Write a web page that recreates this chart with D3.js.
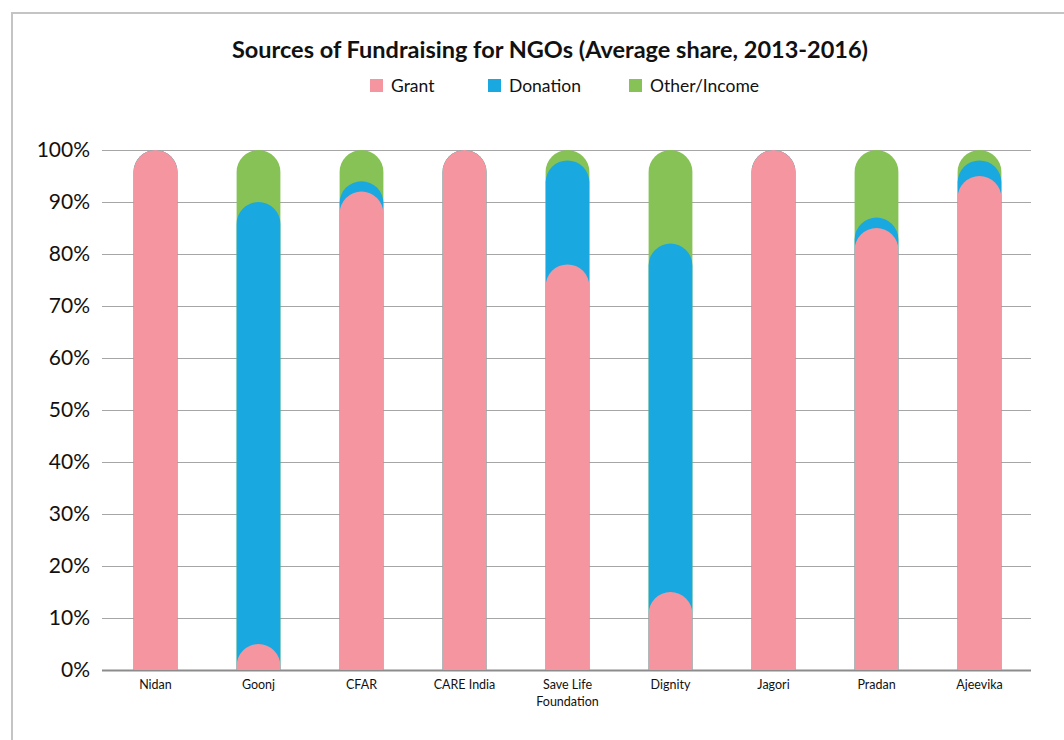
<!DOCTYPE html>
<html>
<head>
<meta charset="utf-8">
<script src="https://cdn.jsdelivr.net/npm/d3@7"></script>
<style>
	body { margin: 0; background: #fff; }
	text { font-family: Lato, "Open Sans", sans-serif; fill: #111; }
</style>
</head>
<body>
<div id="chart"></div>
<script>
(function() {
	var width = 1064,
		height = 740;

	// data (percent of total)
	var ngos = ["Nidan", "Goonj", "CFAR", "CARE India", "Save Life Foundation", "Dignity", "Jagori", "Pradan", "Ajeevika"];
	var grant = [100, 5, 92, 100, 78, 15, 100, 85, 95];
	var donation = [0, 85, 2, 0, 20, 67, 0, 2, 3];
	var other = [0, 10, 6, 0, 2, 18, 0, 13, 2];
	var seriesNames = ["Grant", "Donation", "Other/Income"];
	var colors = ["#F4959F", "#19A9E0", "#86C255"];
	var yTicks = [0, 10, 20, 30, 40, 50, 60, 70, 80, 90, 100];

	var svg = d3.select("#chart")
		.append("svg")
		.attr("width", width)
		.attr("height", height);

	// frame
	svg.append("path")
		.attr("d", "M12," + height + "V13H" + width)
		.attr("fill", "none")
		.attr("stroke", "#c4c4c4")
		.attr("stroke-width", 2);

	var x = d3.scaleBand()
		.domain(ngos)
		.range([104, 1031])
		.paddingInner(0.575)
		.paddingOuter(0.2875);

	var y = d3.scaleLinear()
		.domain([0, 100])
		.range([670, 150]);

	// gridlines
	svg.append("g")
		.selectAll("line")
		.data(yTicks)
		.enter().append("line")
		.attr("x1", 102)
		.attr("x2", 1031)
		.attr("y1", function(d) { return y(d) + 0.5; })
		.attr("y2", function(d) { return y(d) + 0.5; })
		.attr("stroke", function(d) { return d === 0 ? "#8c8c8c" : "#a6a6a6"; })
		.attr("stroke-width", function(d) { return d === 0 ? 2 : 1.2; });

	// y labels
	svg.append("g")
		.selectAll("text")
		.data(yTicks)
		.enter().append("text")
		.attr("x", 90)
		.attr("y", function(d) { return y(d); })
		.attr("dy", "0.35em")
		.attr("text-anchor", "end")
		.style("font-size", "21px")
		.text(function(d) { return d + "%"; });

	// cumulative tops: each series drawn as a full bar from zero with a round cap
	var rows = ngos.map(function(name, i) {
		return [
			{ name: name, s: 2, top: grant[i] + donation[i] + other[i] },
			{ name: name, s: 1, top: grant[i] + donation[i] },
			{ name: name, s: 0, top: grant[i] }
		];
	});

	function capBar(d) {
		var x0 = x(d.name),
			w = x.bandwidth(),
			r = w / 2,
			yt = y(d.top),
			yb = y(0);
		return "M" + x0 + "," + yb +
			"V" + (yt + r) +
			"A" + r + "," + r + " 0 0 1 " + (x0 + w) + "," + (yt + r) +
			"V" + yb + "Z";
	}

	svg.append("g")
		.selectAll("g")
		.data(rows)
		.enter().append("g")
		.selectAll("path")
		.data(function(d) { return d.filter(function(e) { return e.top > 0; }); })
		.enter().append("path")
		.attr("d", capBar)
		.attr("fill", function(d) { return colors[d.s]; });

	// x labels
	var xl = svg.append("g")
		.selectAll("text")
		.data(ngos)
		.enter().append("text")
		.attr("x", function(d) { return x(d) + x.bandwidth() / 2; })
		.attr("y", 689)
		.attr("text-anchor", "middle")
		.style("font-size", "12.5px");

	xl.each(function(d) {
		var parts = d === "Save Life Foundation" ? ["Save Life", "Foundation"] : [d];
		var t = d3.select(this);
		parts.forEach(function(p, i) {
			t.append("tspan")
				.attr("x", x(d) + x.bandwidth() / 2)
				.attr("dy", i === 0 ? 0 : 17)
				.text(p);
		});
	});

	// title
	svg.append("text")
		.attr("x", 550)
		.attr("y", 58)
		.attr("text-anchor", "middle")
		.style("font-size", "23.5px")
		.style("font-weight", "bold")
		.text("Sources of Fundraising for NGOs (Average share, 2013-2016)");

	// legend
	var legendX = [370, 488, 629];
	var legend = svg.append("g")
		.selectAll("g")
		.data(seriesNames)
		.enter().append("g")
		.attr("transform", function(d, i) { return "translate(" + legendX[i] + ",79)"; });

	legend.append("rect")
		.attr("width", 13)
		.attr("height", 13)
		.attr("fill", function(d, i) { return colors[i]; });

	legend.append("text")
		.attr("x", 21)
		.attr("y", 7)
		.attr("dy", "0.35em")
		.style("font-size", "17.5px")
		.text(function(d) { return d; });
})();
</script>
</body>
</html>
